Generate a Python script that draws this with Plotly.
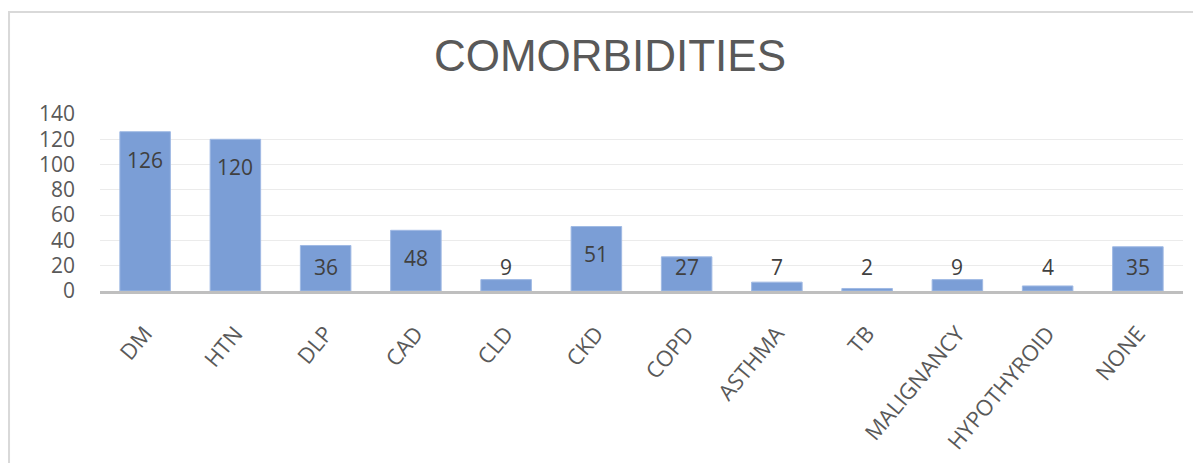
import plotly.graph_objects as go

categories = ["DM", "HTN", "DLP", "CAD", "CLD", "CKD", "COPD", "ASTHMA", "TB",
              "MALIGNANCY", "HYPOTHYROID", "NONE"]
values = [126, 120, 36, 48, 9, 51, 27, 7, 2, 9, 4, 35]
y_ticks = [0, 20, 40, 60, 80, 100, 120, 140]

BAR = "rgb(123,158,214)"
TXT = "#595959"
FONT = "Open Sans"

fig = go.Figure()
fig.add_trace(go.Bar(
    x=categories, y=values,
    marker=dict(color=BAR, line=dict(color="rgb(160,186,228)", width=1)),
    width=0.56,
    hoverinfo="x+y",
))

# data labels: Excel "inside end" style; short bars keep labels at a minimum height
for c, v in zip(categories, values):
    fig.add_annotation(
        x=c, y=max(v - 22, 19), text=str(v), showarrow=False,
        xref="x", yref="y", yanchor="middle",
        font=dict(family=FONT, size=21, color="#404040"),
    )

# outer chart border
fig.add_shape(type="rect", xref="paper", yref="paper",
              x0=-0.084, x1=1.05, y0=-1.2, y1=1.576,
              line=dict(color="#D9D9D9", width=2), fillcolor="rgba(0,0,0,0)",
              layer="below")

fig.update_layout(
    width=1193, height=455,
    margin=dict(l=92, r=18, t=106, b=172, autoexpand=False),
    paper_bgcolor="white", plot_bgcolor="white",
    title=dict(text="COMORBIDITIES", x=0.5046, xanchor="center", y=0.8945, yanchor="middle",
               font=dict(family="Liberation Sans", size=44, color=TXT)),
    showlegend=False,
    bargap=0.44,
)
fig.update_xaxes(
    tickangle=-50, tickfont=dict(family=FONT, size=22, color=TXT),
    showline=True, linecolor="#BFBFBF", linewidth=3, automargin=False,
    ticks="", ticklabelstandoff=18, showgrid=False,
)
fig.update_yaxes(
    range=[0, 140], tickvals=y_ticks, tickfont=dict(family=FONT, size=21, color=TXT),
    showgrid=True, gridcolor="#EBEBEB", gridwidth=1, zeroline=False, automargin=False,
    showline=False, ticks="", ticklabelstandoff=24,
)

fig.write_html("out.html")
